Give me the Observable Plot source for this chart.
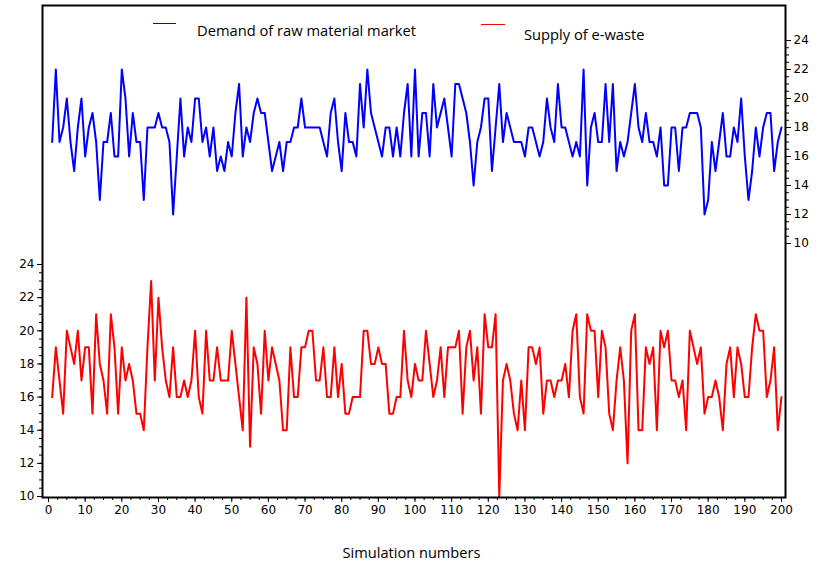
<!DOCTYPE html>
<html>
<head>
<meta charset="utf-8">
<script src="https://cdn.jsdelivr.net/npm/d3@7"></script>
<script src="https://cdn.jsdelivr.net/npm/@observablehq/plot@0.6"></script>
<style>
  html, body { margin: 0; padding: 0; background: #fff; }
  #wrap { position: relative; width: 823px; height: 566px; overflow: hidden; }
  #wrap svg { position: absolute; left: 0; top: 0; }
  .leg { position: absolute; font-family: "Open Sans", sans-serif; font-size: 14.7px; color: #000; white-space: nowrap; }
  .sw { position: absolute; height: 0; border-top: 1px solid; }
  #xtitle { position: absolute; left: 0; width: 823px; top: 542px; text-align: center; font-family: "Open Sans", sans-serif; font-size: 14.6px; }
</style>
</head>
<body>
<div id="wrap"></div>
<script>
// Simulation numbers 1..200
const simulation = d3.range(1, 201);

// Demand of raw material market (right axis)
const demand = [
17,22,17,18,20,17,15,18,20,16, 18,19,17,13,17,17,19,16,16,22,
20,16,19,17,17,13,18,18,18,19, 18,18,17,12,16,20,16,18,17,20,
20,17,18,16,18,15,16,15,17,16, 19,21,16,18,17,19,20,19,19,17,
15,16,17,15,17,17,18,18,20,18, 18,18,18,18,17,16,19,20,17,15,
19,17,17,16,21,18,22,19,18,17, 16,18,18,16,18,16,19,21,16,22,
16,19,19,16,21,18,19,20,18,16, 21,21,20,19,17,14,17,18,20,20,
15,18,21,17,19,18,17,17,17,16, 18,18,17,16,17,20,18,17,21,18,
18,17,16,17,16,22,14,18,19,17, 17,21,17,21,15,17,16,17,19,21,
18,17,19,17,17,16,18,14,14,18, 18,15,18,18,19,19,19,18,12,13,
17,15,17,19,16,16,18,17,20,16, 13,15,18,16,18,19,19,15,17,18
];

// Supply of e-waste (left axis)
const supply = [
16,19,17,15,20,19,18,20,17,19, 19,15,21,18,17,15,21,19,15,19,
17,18,17,15,15,14,19,23,17,22, 19,17,16,19,16,16,17,16,17,20,
16,15,20,17,17,19,17,17,17,20, 18,16,14,22,13,19,18,15,20,17,
19,18,17,14,14,19,16,16,19,19, 20,20,17,17,19,16,16,19,16,18,
15,15,16,16,16,20,20,18,18,19, 18,18,15,15,16,16,20,17,16,18,
17,17,20,18,16,17,19,16,19,19, 19,20,15,19,20,17,19,15,21,19,
19,21,10,17,18,17,15,14,17,14, 19,19,18,19,15,17,17,16,17,17,
18,16,20,21,16,15,21,20,20,16, 20,19,15,14,17,19,17,12,20,21,
14,14,19,18,19,14,20,19,20,17, 17,16,17,14,20,19,18,19,15,16,
16,17,16,14,18,19,16,19,18,16, 16,19,21,20,20,16,17,19,14,16
];

const xTicks = d3.range(0, 201, 10);
const xMinor = d3.range(0, 201, 2.5);
const yTicks = d3.range(10, 25, 2);
const yMinor = d3.range(10, 24.01, 0.5);

const legendItems = ["Demand of raw material market", "Supply of e-waste"];
const colors = ["#0000ff", "#ff0000"];
const xTitle = "Simulation numbers";

const common = {
  width: 823, height: 566,
  marginLeft: 42, marginRight: 38, marginTop: 5, marginBottom: 69
};

const base = Plot.plot({
  ...common,
  x: {domain: [-1.64, 201.1]},
  y: {domain: [10, 24], range: [496, 264]},
  style: {fontFamily: "DejaVu Sans", fontSize: "12px", color: "#000", background: "white"},
  marks: [
    Plot.line(simulation, {x: d => d, y: (d, i) => supply[i], stroke: colors[1], strokeWidth: 2}),
    Plot.frame({stroke: "#000", strokeWidth: 2}),
    Plot.axisX({ticks: xTicks, tickSize: 5, tickPadding: 3, label: null, tickFormat: d => d}),
    Plot.axisX({ticks: xMinor, tickSize: 3, label: null, tickFormat: () => ""}),
    Plot.axisY({ticks: yTicks, tickSize: 5, tickPadding: 3, label: null, tickFormat: d => d}),
    Plot.axisY({ticks: yMinor, tickSize: 3, label: null, tickFormat: () => ""})
  ]
});

const over = Plot.plot({
  ...common,
  x: {domain: [-1.64, 201.1], axis: null},
  y: {domain: [10, 24], range: [243, 40]},
  style: {fontFamily: "DejaVu Sans", fontSize: "12px", color: "#000", background: "transparent"},
  marks: [
    Plot.line(simulation, {x: d => d, y: (d, i) => demand[i], stroke: colors[0], strokeWidth: 2}),
    Plot.axisY({anchor: "right", ticks: yTicks, tickSize: 5, tickPadding: 3, label: null, tickFormat: d => d}),
    Plot.axisY({anchor: "right", ticks: yMinor, tickSize: 3, label: null, tickFormat: () => ""})
  ]
});

const wrap = document.getElementById("wrap");
wrap.appendChild(base);
wrap.appendChild(over);

// legend
const legPos = [{sx: 153, sw: 23, sy: 23, tx: 197, ty: 20}, {sx: 481, sw: 24, sy: 24, tx: 524, ty: 24}];
legendItems.forEach((name, i) => {
  const p = legPos[i];
  const s = document.createElement("div");
  s.className = "sw";
  s.style.left = p.sx + "px"; s.style.top = p.sy + "px"; s.style.width = p.sw + "px";
  s.style.borderTopColor = colors[i];
  wrap.appendChild(s);
  const t = document.createElement("div");
  t.className = "leg";
  t.style.left = p.tx + "px"; t.style.top = p.ty + "px";
  t.textContent = name;
  wrap.appendChild(t);
});
const xt = document.createElement("div");
xt.id = "xtitle";
xt.textContent = xTitle;
wrap.appendChild(xt);
</script>
</body>
</html>
